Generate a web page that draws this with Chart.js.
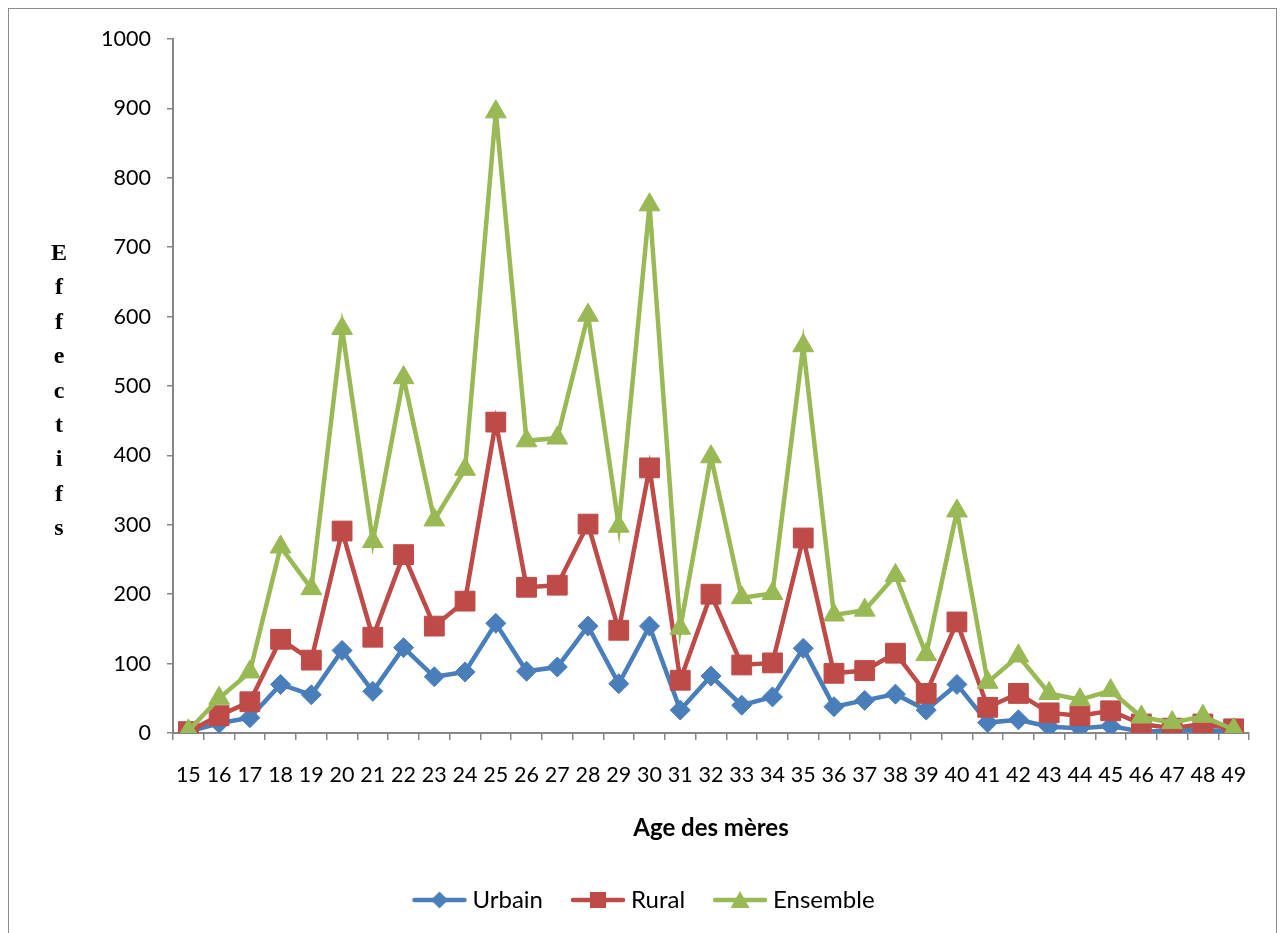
<!DOCTYPE html>
<html>
<head>
<meta charset="utf-8">
<script src="https://cdn.jsdelivr.net/npm/chart.js@4/dist/chart.umd.min.js"></script>
<style>
  html, body { margin: 0; padding: 0; background: #fff; overflow: hidden; }
  #wrap { position: relative; width: 1281px; height: 933px; }
  #frame { position: absolute; left: 8px; top: 8px; width: 1269px; height: 960px; border: 1.5px solid #8c8c8c; box-sizing: border-box; pointer-events: none; }
  canvas { display: block; }
</style>
</head>
<body>
<div id="wrap">
  <canvas id="c" width="1281" height="933"></canvas>
  <div id="frame"></div>
</div>
<script>
const ages = ["15","16","17","18","19","20","21","22","23","24","25","26","27","28","29","30","31","32","33","34","35","36","37","38","39","40","41","42","43","44","45","46","47","48","49"];
const urbain = [2, 14, 22, 70, 55, 119, 60, 123, 81, 88, 158, 89, 95, 154, 71, 154, 33, 82, 40, 52, 122, 38, 47, 56, 33, 70, 15, 19, 9, 7, 10, 2, 3, 5, 1];
const rural = [2, 25, 45, 135, 105, 291, 138, 257, 154, 190, 448, 210, 213, 301, 148, 382, 76, 200, 98, 101, 281, 86, 90, 115, 57, 160, 37, 57, 29, 25, 32, 13, 7, 13, 6];
const ensemble = [3, 50, 88, 268, 208, 583, 276, 512, 307, 380, 895, 421, 425, 602, 298, 761, 151, 398, 195, 201, 558, 170, 177, 227, 113, 320, 73, 111, 57, 48, 61, 23, 15, 24, 5];
const yTicks = [0, 100, 200, 300, 400, 500, 600, 700, 800, 900, 1000];
const xTitle = "Age des mères";
const yTitle = "Effectifs";
const seriesNames = ["Urbain", "Rural", "Ensemble"];

const BLUE = "#4A7EBB", RED = "#BE4B48", GREEN = "#98B954";

function legendIcon(color, shape) {
  const c = document.createElement("canvas");
  c.width = 56; c.height = 24;
  const g = c.getContext("2d");
  g.strokeStyle = color; g.lineWidth = 4.5; g.lineCap = "round";
  g.beginPath(); g.moveTo(3, 12); g.lineTo(53, 12); g.stroke();
  g.fillStyle = color;
  g.beginPath();
  if (shape === "diamond") { g.moveTo(28, 3.5); g.lineTo(36.5, 12); g.lineTo(28, 20.5); g.lineTo(19.5, 12); g.closePath(); }
  else if (shape === "square") { g.rect(20, 4, 16, 16); }
  else { g.moveTo(28, 3); g.lineTo(37.5, 20); g.lineTo(18.5, 20); g.closePath(); }
  g.fill();
  return c;
}
const icons = [legendIcon(BLUE, "diamond"), legendIcon(RED, "square"), legendIcon(GREEN, "triangle")];

const yTitlePlugin = {
  id: "yTitleLetters",
  afterDraw(chart) {
    const ctx = chart.ctx, a = chart.chartArea;
    const letters = yTitle.split("");
    const step = 34.4;
    const base0 = a.top + 221;
    ctx.save();
    ctx.font = "bold 24px 'Liberation Serif'";
    ctx.fillStyle = "#000";
    ctx.textAlign = "center";
    ctx.textBaseline = "alphabetic";
    letters.forEach((ch, i) => ctx.fillText(ch, a.left - 114, base0 + i * step));
    ctx.restore();
  }
};

const legendShift = {
  id: "legendShift",
  afterLayout(chart) {
    if (chart.legend) { chart.legend.left += 22; chart.legend.right += 22; }
  }
};

const common = { borderWidth: 4.5, tension: 0, pointBorderWidth: 1, fill: false };

new Chart(document.getElementById("c"), {
  type: "line",
  data: {
    labels: ages,
    datasets: [
      Object.assign({ label: seriesNames[0], data: urbain, borderColor: BLUE, backgroundColor: BLUE, pointStyle: "rectRot", pointRadius: 10, pointHoverRadius: 10, order: 3 }, common),
      Object.assign({ label: seriesNames[1], data: rural, borderColor: RED, backgroundColor: RED, pointStyle: "rect", pointRadius: 14, pointHoverRadius: 14, order: 2 }, common),
      Object.assign({ label: seriesNames[2], data: ensemble, borderColor: GREEN, backgroundColor: GREEN, pointStyle: "triangle", pointRadius: 12, pointHoverRadius: 12, order: 1 }, common)
    ]
  },
  options: {
    responsive: false,
    animation: false,
    devicePixelRatio: 1,
    layout: { padding: { left: 0, right: 32, top: 39, bottom: 11 } },
    plugins: {
      tooltip: { enabled: false },
      legend: {
        position: "bottom",
        labels: {
          usePointStyle: true,
          pointStyleWidth: 42,
          padding: 34,
          color: "#000",
          font: { family: "Lato", size: 24 },
          sort: (a, b) => a.datasetIndex - b.datasetIndex,
          generateLabels(chart) {
            return chart.data.datasets.map((ds, i) => ({
              text: ds.label, datasetIndex: i, pointStyle: icons[i],
              fillStyle: ds.borderColor, strokeStyle: ds.borderColor, lineWidth: 0, hidden: false, fontColor: "#000"
            }));
          }
        }
      }
    },
    scales: {
      x: {
        type: "category",
        offset: true,
        afterFit(s) { s.height = 121; },
        grid: { display: true, drawOnChartArea: false, drawTicks: true, tickLength: 7, color: "#868686", lineWidth: 1.5, offset: true },
        border: { display: true, color: "#868686", width: 2 },
        ticks: { color: "#000", font: { family: "Lato", size: 21.5 }, autoSkip: false, maxRotation: 0, padding: 22 },
        title: { display: true, text: xTitle, color: "#000", font: { family: "Lato", size: 24, weight: "bold" }, padding: { top: 0, bottom: 11.6 } }
      },
      y: {
        min: 0, max: 1000,
        afterFit(s) { s.width = 173; },
        afterBuildTicks(s) { s.ticks = yTicks.map(v => ({ value: v })); },
        grid: { display: true, drawOnChartArea: false, drawTicks: true, tickLength: 6, color: "#868686", lineWidth: 1.5 },
        border: { display: true, color: "#868686", width: 2 },
        ticks: { color: "#000", font: { family: "Lato", size: 21.5 }, padding: 16, callback: v => String(v) }
      }
    }
  },
  plugins: [yTitlePlugin, legendShift]
});
</script>
</body>
</html>
